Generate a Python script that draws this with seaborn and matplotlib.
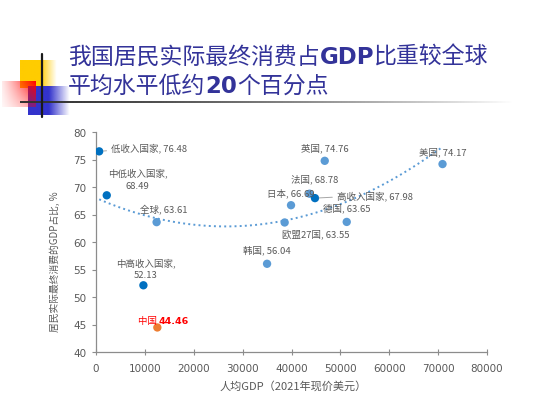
import numpy as np
import pandas as pd
import seaborn as sns
import matplotlib.pyplot as plt

#%% data
names = ['低收入国家', '中低收入国家', '全球', '中高收入国家', '中国', '韩国', '欧盟27国',
         '日本', '法国', '高收入国家', '英国', '德国', '美国']
gdp_pc = [650, 2200, 12400, 9700, 12550, 35000, 38600, 39900, 43700, 44800, 46800, 51300, 70900]
share = [76.48, 68.49, 63.61, 52.13, 44.46, 56.04, 63.55, 66.69, 68.78, 67.98, 74.76, 63.65, 74.17]
grp = ['收入组', '收入组', '国家', '收入组', '中国', '国家', '国家',
       '国家', '国家', '收入组', '国家', '国家', '国家']
labels = ['低收入国家, 76.48', '中低收入国家,\n68.49', '全球, 63.61', '中高收入国家,\n52.13', '中国 ',
          '韩国, 56.04', '欧盟27国, 63.55', '日本, 66.69', '法国, 68.78', '高收入国家, 67.98',
          '英国, 74.76', '德国, 63.65', '美国, 74.17']
xticks = [0, 10000, 20000, 30000, 40000, 50000, 60000, 70000, 80000]
yticks = [40, 45, 50, 55, 60, 65, 70, 75, 80]

# label offsets in pixels (dx, dy) and alignment
offs = [(12, 4, 'left'), (31, 17, 'center'), (7, 13, 'center'), (2, 17, 'center'), (-9, 7, 'center'),
        (0, 14, 'center'), (31, -11, 'center'), (0, 13, 'center'), (5, 15, 'center'), (22, 3, 'left'),
        (0, 13, 'center'), (0, 14, 'center'), (0, 13, 'center')]

df = pd.DataFrame({'name': names, 'gdp': gdp_pc, 'share': share, 'grp': grp})
pal = {'收入组': '#0070C0', '国家': '#5B9BD5', '中国': '#ED7D31'}

sns.set_style('white')
plt.rcParams['font.family'] = ['Noto Sans CJK SC', 'DejaVu Sans']

fig = plt.figure(figsize=(5.5, 4.06), dpi=100)

#%% slide decoration
deco = fig.add_axes([0, 0, 1, 1])
deco.set_xlim(0, 550)
deco.set_ylim(406, 0)
deco.axis('off')

def grad_box(x0, x1, y0, y1, rgb, alpha):
    arr = np.zeros(alpha.shape + (4,))
    arr[..., :3] = rgb
    arr[..., 3] = alpha
    deco.imshow(arr, extent=(x0, x1, y1, y0), origin='upper', aspect='auto', interpolation='bilinear')

w = np.linspace(0, 1, 60)
a_y = np.clip((1 - w) / 0.45, 0, 1)
grad_box(20, 57, 61, 89, (1, 0.8, 0), np.tile(a_y, (20, 1)))
a_b = np.clip((1 - w) / 0.5, 0, 1)
grad_box(28, 70, 87, 116, (0.2, 0.2, 0.8), np.tile(a_b, (20, 1)))
hx = np.linspace(0.15, 1, 60) ** 1.3
vy = np.linspace(1, 0.4, 40)
grad_box(2, 36, 82, 108, (1, 0, 0), np.outer(vy, hx))
line_a = np.tile(np.clip(1 - np.linspace(0, 1, 200) ** 1.5, 0, 1), (2, 1))
grad_box(20, 515, 102, 104, (0.2, 0.2, 0.2), line_a)
deco.plot([41.5, 41.5], [55, 118], color='#1a1a1a', lw=1.6)

# title, mixed weights
tc = '#333399'
fs = 16.5
t = deco.text(68, 64, '我国居民实际最终消费占', fontsize=fs, color=tc, va='baseline')
t = deco.annotate('GDP', xy=(1, 0), xycoords=t, fontsize=fs, color=tc, va='bottom',
                  fontweight='bold', family=['DejaVu Sans'])
t = deco.annotate('比重较全球', xy=(1, 0), xycoords=t, fontsize=fs, color=tc, va='bottom')
t = deco.text(68, 93, '平均水平低约', fontsize=fs, color=tc, va='baseline')
t = deco.annotate('20', xy=(1, 0), xycoords=t, fontsize=fs, color=tc, va='bottom',
                  fontweight='bold', family=['DejaVu Sans'])
t = deco.annotate('个百分点', xy=(1, 0), xycoords=t, fontsize=fs, color=tc, va='bottom')

#%% chart
ax = fig.add_axes([96 / 550, 1 - 353 / 406, 391 / 550, 220 / 406])
# trend line fitted without China, as in the original
sns.regplot(data=df[df['grp'] != '中国'], x='gdp', y='share', order=2, scatter=False, ci=None, ax=ax,
            line_kws=dict(ls=':', color='#5B9BD5', lw=1.4))
sns.scatterplot(data=df, x='gdp', y='share', hue='grp', palette=pal, s=36, edgecolor='none',
                legend=False, ax=ax, zorder=3)

gray = '#595959'
for i, row in df.iterrows():
    dx, dy, ha = offs[i]
    col = '#FF0000' if row['grp'] == '中国' else gray
    ap = None
    if ha == 'left':
        ap = dict(arrowstyle='-', color='#A6A6A6', lw=0.7, shrinkA=1, shrinkB=3)
    a = ax.annotate(labels[i], xy=(row['gdp'], row['share']), xytext=(dx, dy),
                    textcoords='offset pixels', ha=ha, va='center', fontsize=6.8, color=col,
                    linespacing=1.5, arrowprops=ap)
    if row['grp'] == '中国':
        ax.annotate(f"{row['share']:.2f}", xy=(1, 0), xycoords=a, va='bottom', fontsize=6.8,
                    color=col, fontweight='bold', family=['DejaVu Sans'])

ax.set_xlim(0, 80000)
ax.set_ylim(40, 80)
ax.set_xticks(xticks)
ax.set_yticks(yticks)
ax.set_xticklabels([str(v) for v in xticks])
ax.set_yticklabels([str(v) for v in yticks])
for s in ['top', 'right']:
    ax.spines[s].set_visible(False)
for s in ['left', 'bottom']:
    ax.spines[s].set_color('#8C8C8C')
    ax.spines[s].set_linewidth(0.9)
ax.tick_params(axis='y', direction='out', length=3, width=0.8, color='#8C8C8C',
               labelsize=7.5, labelcolor=gray, pad=4, left=True)
ax.tick_params(axis='x', direction='inout', length=4, width=0.8, color='#8C8C8C',
               labelsize=7.5, labelcolor=gray, pad=6, bottom=True)
for lb in ax.get_xticklabels() + ax.get_yticklabels():
    lb.set_family(['DejaVu Sans'])

ax.set_xlabel('人均GDP（2021年现价美元）', fontsize=8, color=gray)
ax.xaxis.set_label_coords(0.504, -0.127)
ax.set_ylabel('居民实际最终消费的GDP占比, %', fontsize=7, color=gray)
ax.yaxis.set_label_coords(-0.092, 0.414)

fig.savefig('out.png', dpi=100)
